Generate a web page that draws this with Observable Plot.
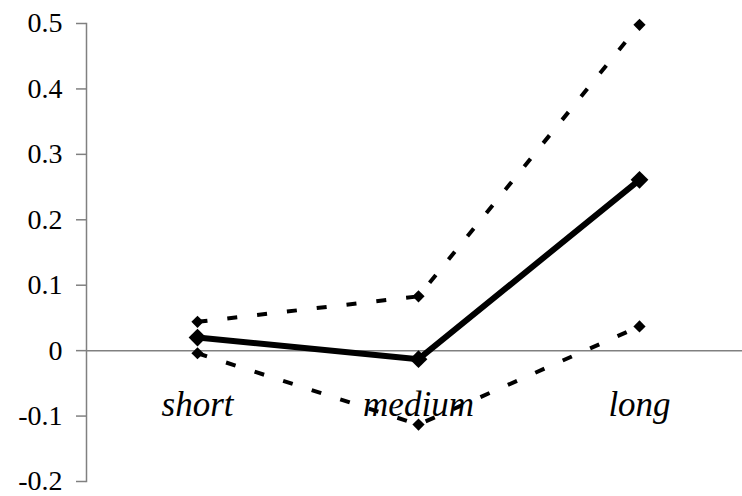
<!DOCTYPE html>
<html>
<head>
<meta charset="utf-8">
<script src="https://cdn.jsdelivr.net/npm/d3@7"></script>
<script src="https://cdn.jsdelivr.net/npm/@observablehq/plot@0.6"></script>
<style>
  html, body { margin: 0; padding: 0; background: #fff; }
</style>
</head>
<body>
<div id="chart"></div>
<script>
const categories = ["short", "medium", "long"];
const meanValues = [0.02, -0.013, 0.261];
const upperValues = [0.044, 0.083, 0.498];
const lowerValues = [-0.004, -0.113, 0.037];
const yTicks = [-0.2, -0.1, 0, 0.1, 0.2, 0.3, 0.4, 0.5];

const rows = (vals) => categories.map((c, i) => ({cat: c, value: vals[i]}));
const mean = rows(meanValues);
const upper = rows(upperValues);
const lower = rows(lowerValues);

const chart = Plot.plot({
  width: 742,
  height: 496,
  marginLeft: 86,
  marginRight: 0,
  marginTop: 23,
  marginBottom: 15,
  style: {background: "#fff", color: "#000", fontFamily: "Liberation Serif, Times New Roman, serif"},
  x: {type: "point", domain: categories, range: [196, 639], padding: 0, axis: null},
  y: {domain: [-0.2, 0.5], axis: null},
  marks: [
    Plot.frame({anchor: "left", stroke: "#808080", strokeWidth: 1.5}),
    Plot.axisY({
      ticks: yTicks,
      tickFormat: d => String(d),
      tickSize: 10,
      tickPadding: 14,
      stroke: "#808080",
      strokeWidth: 1.5,
      fill: "#000",
      fontSize: 28,
      label: null
    }),
    Plot.ruleY([0], {stroke: "#808080", strokeWidth: 1.5}),
    Plot.text(categories, {
      x: d => d,
      y: () => 0,
      dy: 65,
      lineAnchor: "bottom",
      text: d => d,
      fontSize: 35,
      fontStyle: "italic",
      fill: "#000"
    }),
    Plot.line(upper, {x: "cat", y: "value", stroke: "#000", strokeWidth: 4, strokeDasharray: "10,20", strokeLinecap: "butt"}),
    Plot.line(lower, {x: "cat", y: "value", stroke: "#000", strokeWidth: 4, strokeDasharray: "10,20", strokeLinecap: "butt"}),
    Plot.dot(upper, {x: "cat", y: "value", symbol: "diamond2", r: 5.5, fill: "#000"}),
    Plot.dot(lower, {x: "cat", y: "value", symbol: "diamond2", r: 5.5, fill: "#000"}),
    Plot.line(mean, {x: "cat", y: "value", stroke: "#000", strokeWidth: 6}),
    Plot.dot(mean, {x: "cat", y: "value", symbol: "diamond2", r: 8, fill: "#000"})
  ]
});
document.getElementById("chart").appendChild(chart);
</script>
</body>
</html>
